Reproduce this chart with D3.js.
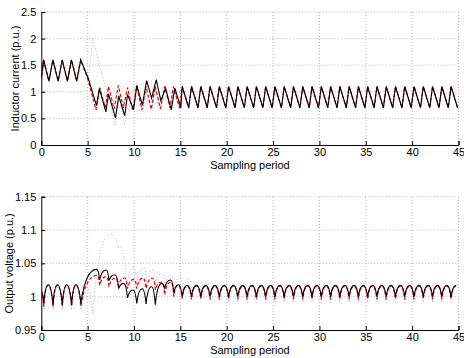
<!DOCTYPE html>
<html><head><meta charset="utf-8">
<script src="https://cdn.jsdelivr.net/npm/d3@7"></script>
<style>
body{margin:0;background:#fff;}
text{font-family:"Liberation Sans",Arial,Helvetica,sans-serif;fill:#000;}
</style></head>
<body><svg id="c" width="464" height="358"></svg>
<script>
// ---------- DATA ----------
const xTicks = [0,5,10,15,20,25,30,35,40,45];
const iTicks = [0,0.5,1,1.5,2,2.5];
const iTickLabels = ["0","0.5","1","1.5","2","2.5"];
const vTicks = [0.95,1,1.05,1.1,1.15];
const vTickLabels = ["0.95","1","1.05","1.1","1.15"];

// Inductor current: transient vertices [period, p.u.]
const iBlackTransient = [[0,1.25],[0.25,1.6],[0.82,1.2],[1.25,1.6],[1.82,1.2],[2.25,1.6],[2.82,1.2],[3.25,1.6],[3.82,1.2],[4.25,1.6],[5.07,1.25],[5.95,0.74],[6.26,1.06],[6.97,0.62],[7.25,0.96],[8.0,0.51],[8.35,0.92],[9.0,0.55],[9.3,0.95],[9.95,0.66],[10.3,1.12],[10.9,0.75],[11.36,1.21],[11.9,0.88],[12.4,1.23],[12.9,0.83],[13.4,1.07],[14.02,0.66],[14.4,1.07],[15.05,0.7],[15.2,1.1],[15.9,0.7]];
const iRedTransient = [[0,1.2],[0.25,1.6],[0.82,1.2],[1.25,1.6],[1.82,1.2],[2.25,1.6],[2.82,1.2],[3.25,1.6],[3.82,1.2],[4.25,1.6],[5.05,1.22],[5.9,0.66],[6.3,1.08],[6.9,0.7],[7.25,1.1],[7.85,0.68],[8.3,1.12],[8.85,0.7],[9.3,1.08],[9.85,0.66],[10.3,1.1],[10.85,0.66],[11.3,1.1],[11.85,0.67],[12.3,1.1],[12.85,0.68],[13.3,1.1],[13.9,0.7],[14.25,1.1],[14.9,0.7],[15.2,1.1],[15.9,0.7]];
const iBlueTransient = [[0,1.2],[0.25,1.58],[0.82,1.18],[1.25,1.58],[1.82,1.18],[2.25,1.58],[2.82,1.18],[3.25,1.58],[3.82,1.18],[4.25,1.58],[5.07,1.25],[5.55,2.0],[7.95,0.38],[8.4,0.95],[8.95,0.38],[10.25,1.16],[10.95,0.62],[11.3,1.0],[11.9,0.65],[12.3,1.05],[12.9,0.68],[13.3,1.1],[13.9,0.7],[14.25,1.1],[14.9,0.68],[15.2,1.1],[15.9,0.68]];
// steady state: one peak and one trough per sampling period (periods 16..44)
const steadyPeriods = [16,17,18,19,20,21,22,23,24,25,26,27,28,29,30,31,32,33,34,35,36,37,38,39,40,41,42,43,44];
const iBlackPeak   = [1.1,1.1,1.1,1.1,1.1,1.1,1.1,1.1,1.1,1.1,1.1,1.1,1.1,1.1,1.1,1.1,1.1,1.1,1.1,1.1,1.1,1.1,1.1,1.1,1.1,1.1,1.1,1.1,1.1];
const iBlackTrough = [0.7,0.7,0.7,0.7,0.7,0.7,0.7,0.7,0.7,0.7,0.7,0.7,0.7,0.7,0.7,0.7,0.7,0.7,0.7,0.7,0.7,0.7,0.7,0.7,0.7,0.7,0.7,0.7,0.7];
const iRedPeak     = [1.1,1.1,1.1,1.1,1.1,1.1,1.1,1.1,1.1,1.1,1.1,1.1,1.1,1.1,1.1,1.1,1.1,1.1,1.1,1.1,1.1,1.1,1.1,1.1,1.1,1.1,1.1,1.1,1.1];
const iRedTrough   = [0.7,0.7,0.7,0.7,0.7,0.7,0.7,0.7,0.7,0.7,0.7,0.7,0.7,0.7,0.7,0.7,0.7,0.7,0.7,0.7,0.7,0.7,0.7,0.7,0.7,0.7,0.7,0.7,0.7];
const iBluePeak    = [1.1,1.1,1.1,1.1,1.1,1.1,1.1,1.1,1.1,1.1,1.1,1.1,1.1,1.1,1.1,1.1,1.1,1.1,1.1,1.1,1.1,1.1,1.1,1.1,1.1,1.1,1.1,1.1,1.1];
const iBlueTrough  = [0.68,0.68,0.69,0.69,0.69,0.69,0.69,0.69,0.69,0.69,0.69,0.69,0.69,0.69,0.69,0.69,0.69,0.69,0.69,0.69,0.69,0.69,0.69,0.69,0.69,0.69,0.69,0.69,0.69];
const iPeakPhase = 0.2, iTroughPhase = 0.9;

// Output voltage: alternating minima / maxima [period, p.u.]
const vBlackTransient = [[0,1.008],[0.27,0.99],[0.75,1.018],[1.27,0.988],[1.75,1.018],[2.27,0.988],[2.75,1.018],[3.27,0.988],[3.75,1.018],[4.27,0.99],[5.97,1.041],[6.3,1.025],[7.0,1.04],[7.3,1.024],[7.95,1.033],[8.35,1.012],[8.9,1.02],[9.3,0.998],[9.9,1.01],[10.3,0.99],[10.9,1.012],[11.3,0.989],[11.9,1.015],[12.3,0.988],[13.0,1.02],[13.3,1.012],[13.95,1.025],[14.3,1.005],[14.8,1.018],[15.2,1.0],[15.75,1.017]];
const vRedTransient = [[0,1.005],[0.27,0.985],[0.75,1.017],[1.27,0.985],[1.75,1.017],[2.27,0.985],[2.75,1.017],[3.27,0.985],[3.75,1.017],[4.27,0.985],[6.0,1.032],[6.3,1.017],[7.0,1.03],[7.3,1.015],[8.0,1.028],[8.3,1.016],[9.0,1.028],[9.3,1.012],[10.0,1.026],[10.3,1.012],[11.0,1.028],[11.3,1.012],[12.0,1.028],[12.3,1.01],[13.0,1.022],[13.3,1.003],[14.0,1.022],[14.3,1.0],[14.75,1.017],[15.2,0.997],[15.75,1.016]];
const vBlueTransient = [[0,1.0],[0.27,0.98],[0.75,1.017],[1.27,0.98],[1.75,1.017],[2.27,0.98],[2.75,1.017],[3.27,0.98],[3.75,1.017],[4.27,0.98],[4.85,1.015],[5.55,0.975],[7.5,1.094],[8.3,1.072],[8.45,1.075],[9.25,1.015],[9.95,1.044],[10.3,1.02],[11.1,1.043],[11.35,1.02],[12.05,1.04],[12.35,1.02],[13.05,1.035],[13.3,1.015],[14.0,1.032],[14.3,1.01],[15.0,1.03],[15.3,1.005],[16.0,1.027],[16.3,1.0],[17.0,1.024],[17.3,0.998],[17.9,1.02],[18.25,0.995],[18.8,1.018],[19.2,0.993],[19.75,1.017]];
const vBlackMin = [1.0,1.0,1.0,1.0,1.0,1.0,1.0,1.0,1.0,1.0,1.0,1.0,1.0,1.0,1.0,1.0,1.0,1.0,1.0,1.0,1.0,1.0,1.0,1.0,1.0,1.0,1.0,1.0,1.0];
const vBlackMax = [1.017,1.017,1.017,1.017,1.017,1.017,1.017,1.017,1.017,1.017,1.017,1.017,1.017,1.017,1.017,1.017,1.017,1.017,1.017,1.017,1.017,1.017,1.017,1.017,1.017,1.017,1.017,1.017,1.017];
const vRedMin = [0.996,0.996,0.996,0.996,0.996,0.996,0.996,0.996,0.996,0.996,0.996,0.996,0.996,0.996,0.996,0.996,0.996,0.996,0.996,0.996,0.996,0.996,0.996,0.996,0.996,0.996,0.996,0.996,0.996];
const vRedMax = [1.016,1.016,1.016,1.016,1.016,1.016,1.016,1.016,1.016,1.016,1.016,1.016,1.016,1.016,1.016,1.016,1.016,1.016,1.016,1.016,1.016,1.016,1.016,1.016,1.016,1.016,1.016,1.016,1.016];
const vBlueSteadyPeriods = [20,21,22,23,24,25,26,27,28,29,30,31,32,33,34,35,36,37,38,39,40,41,42,43,44];
const vBlueMin = [0.991,0.991,0.991,0.991,0.991,0.991,0.991,0.991,0.991,0.991,0.991,0.991,0.991,0.991,0.991,0.991,0.991,0.991,0.991,0.991,0.991,0.991,0.991,0.991,0.991];
const vBlueMax = [1.016,1.016,1.016,1.016,1.016,1.016,1.016,1.016,1.016,1.016,1.016,1.016,1.016,1.016,1.016,1.016,1.016,1.016,1.016,1.016,1.016,1.016,1.016,1.016,1.016];
const vMinPhase = 0.2, vMaxPhase = 0.75;

// ---------- DRAW ----------
const svg = d3.select("#c");
const x = d3.scaleLinear().domain([0,45]).range([41.3,458.5]);
const yI = d3.scaleLinear().domain([0,2.5]).range([145,12]);
const yV = d3.scaleLinear().domain([0.95,1.15]).range([330,196.7]);

function withSteady(trans, periods, hi, lo, pHi, pLo){
  const pts = trans.slice();
  periods.forEach((k,i)=>{ pts.push([k+pHi, hi[i]]); pts.push([k+pLo, lo[i]]); });
  return pts;
}
function withSteadyV(trans, periods, lo, hi, pLo, pHi){
  const pts = trans.slice();
  periods.forEach((k,i)=>{ pts.push([k+pLo, lo[i]]); pts.push([k+pHi, hi[i]]); });
  return pts;
}

function panel(y, ticks, labels, yLabel, labelX, clipId){
  const g = svg.append("g");
  const [x0,x1] = x.range(); const [yb,yt] = y.range();
  svg.append("clipPath").attr("id",clipId).append("rect")
    .attr("x",x0).attr("y",yt-2).attr("width",x1-x0).attr("height",yb-yt+2);
  // grid
  g.selectAll(".gx").data(xTicks.filter(d=>d>0)).join("line")
    .attr("x1",d=>x(d)).attr("x2",d=>x(d)).attr("y1",yb).attr("y2",yt)
    .attr("stroke","#b4b4b4").attr("stroke-width",1).attr("stroke-dasharray","1,2");
  g.selectAll(".gy").data(ticks.filter((d,i)=>i>0)).join("line")
    .attr("x1",x0).attr("x2",x1).attr("y1",d=>y(d)).attr("y2",d=>y(d))
    .attr("stroke","#b4b4b4").attr("stroke-width",1).attr("stroke-dasharray","1,2");
  // axes
  const ax = g.append("g").attr("transform",`translate(0,${yb})`)
    .call(d3.axisBottom(x).tickValues(xTicks).tickSize(-4).tickPadding(3).tickFormat(d3.format("d")));
  const ay = g.append("g").attr("transform",`translate(${x0},0)`)
    .call(d3.axisLeft(y).tickValues(ticks).tickSize(-4).tickPadding(5).tickFormat((d,i)=>labels[i]));
  [ax,ay].forEach(a=>{
    a.select(".domain").attr("stroke","#000").attr("stroke-width",1);
    a.selectAll(".tick line").attr("stroke","#000");
    a.selectAll("text").attr("font-size",11).attr("font-family","Liberation Sans, Arial, sans-serif").attr("fill","#000");
  });
  g.append("text").attr("x",(x0+x1)/2).attr("y",yb+24).attr("text-anchor","middle")
    .attr("font-size",11).text("Sampling period");
  g.append("text").attr("transform",`translate(${labelX},${(yb+yt)/2}) rotate(-90)`)
    .attr("text-anchor","middle").attr("font-size",11).text(yLabel);
  return g;
}

const gI = panel(yI, iTicks, iTickLabels, "Inductor current (p.u.)", 19, "clipI");
const gV = panel(yV, vTicks, vTickLabels, "Output voltage (p.u.)", 13, "clipV");

const styles = {
  blue:{stroke:"#8f8fff", dash:"1,2", w:0.9, op:0.85},
  red:{stroke:"#ff0000", dash:"3.5,2", w:1.2, op:1},
  black:{stroke:"#000000", dash:null, w:1.1, op:1}
};

// current lines (piecewise linear)
const lineI = d3.line().x(d=>x(d[0])).y(d=>yI(d[1]));
const iSeries = [
  ["blue", withSteady(iBlueTransient, steadyPeriods, iBluePeak, iBlueTrough, iPeakPhase, iTroughPhase)],
  ["red", withSteady(iRedTransient, steadyPeriods, iRedPeak, iRedTrough, iPeakPhase, iTroughPhase)],
  ["black", withSteady(iBlackTransient, steadyPeriods, iBlackPeak, iBlackTrough, iPeakPhase, iTroughPhase)]
];
const ciG = svg.append("g").attr("clip-path","url(#clipI)");
iSeries.forEach(([k,pts])=>{
  const s = styles[k];
  ciG.append("path").attr("d",lineI(pts)).attr("fill","none").attr("stroke",s.stroke)
    .attr("stroke-width",s.w).attr("stroke-dasharray",s.dash).attr("opacity",s.op);
});

// voltage lines: arches between minima (sharp) and maxima (rounded)
function archPath(pts){
  const p = d3.path();
  p.moveTo(x(pts[0][0]), yV(pts[0][1]));
  for(let i=1;i<pts.length;i++){
    const a=pts[i-1], b=pts[i], dt=b[0]-a[0];
    if(b[1]>=a[1]){ // rising toward a rounded maximum
      p.quadraticCurveTo(x(a[0]+0.3*dt), yV(b[1]), x(b[0]), yV(b[1]));
    } else { // falling into a sharp minimum
      p.quadraticCurveTo(x(a[0]+0.6*dt), yV(a[1]), x(b[0]), yV(b[1]));
    }
  }
  return p.toString();
}
const vSeries = [
  ["blue", withSteadyV(vBlueTransient, vBlueSteadyPeriods, vBlueMin, vBlueMax, vMinPhase, vMaxPhase)],
  ["red", withSteadyV(vRedTransient, steadyPeriods, vRedMin, vRedMax, vMinPhase, vMaxPhase)],
  ["black", withSteadyV(vBlackTransient, steadyPeriods, vBlackMin, vBlackMax, vMinPhase, vMaxPhase)]
];
const cvG = svg.append("g").attr("clip-path","url(#clipV)");
vSeries.forEach(([k,pts])=>{
  const s = styles[k];
  cvG.append("path").attr("d",archPath(pts)).attr("fill","none").attr("stroke",s.stroke)
    .attr("stroke-width",s.w).attr("stroke-dasharray",s.dash).attr("opacity",s.op);
});
</script></body></html>
